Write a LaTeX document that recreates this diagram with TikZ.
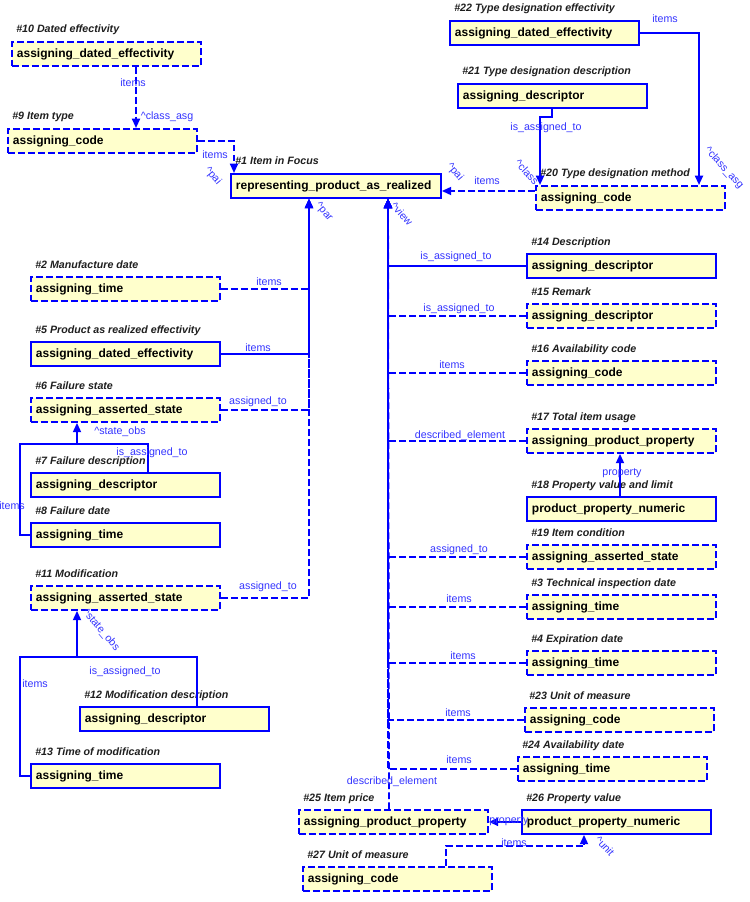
\documentclass[tikz,border=0pt]{standalone}
\usepackage{fontspec}
\setmainfont{Liberation Sans}
\usetikzlibrary{arrows.meta}
\definecolor{boxfill}{RGB}{255,255,204}
\definecolor{lnblue}{RGB}{0,0,255}
\definecolor{lblblue}{RGB}{51,51,255}
\definecolor{ttlc}{RGB}{30,30,30}
\begin{document}
\begin{tikzpicture}[x=0.75pt,y=-0.75pt,
  box/.style={draw=lnblue, fill=boxfill, line width=1.4pt, minimum height=18pt,
    text width=134.25pt, inner xsep=3.75pt, inner ysep=0pt, align=left,
    anchor=north west, font=\bfseries\fontsize{9}{10}\selectfont},
  dbox/.style={box, dash pattern=on 5pt off 2.5pt},
  wide/.style={text width=150pt},
  ttl/.style={anchor=base west, inner sep=0pt, text=ttlc,
    font=\bfseries\itshape\fontsize{8}{9}\selectfont},
  lbl/.style={inner sep=0pt, text=lblblue, font=\fontsize{8}{9}\selectfont},
  sl/.style={draw=lnblue, line width=1.4pt},
  dl/.style={sl, dash pattern=on 5pt off 2.5pt},
  arr/.style={-{Triangle[length=7pt,width=6pt]}}
]
\useasboundingbox (0,0) rectangle (749,902);

% ---------- boxes ----------
\node[dbox] (n10) at (11,41) {assigning\_dated\_effectivity};
\node[ttl] (t10) at (16,33) {\#10 Dated effectivity};
\node[dbox] (n9) at (7,128) {assigning\_code};
\node[ttl] (t9) at (12,120) {\#9 Item type};
\node[box,wide] (n1) at (230,173) {representing\_product\_as\_realized};
\node[ttl] (t1) at (235,165) {\#1 Item in Focus};
\node[box] (n22) at (449,20) {assigning\_dated\_effectivity};
\node[ttl] (t22) at (454,12) {\#22 Type designation effectivity};
\node[box] (n21) at (457,83) {assigning\_descriptor};
\node[ttl] (t21) at (462,75) {\#21 Type designation description};
\node[dbox] (n20) at (535,185) {assigning\_code};
\node[ttl] (t20) at (540,177) {\#20 Type designation method};

\node[dbox] (n2) at (30,276) {assigning\_time};
\node[ttl] (t2) at (35,268) {\#2 Manufacture date};
\node[box] (n5) at (30,341) {assigning\_dated\_effectivity};
\node[ttl] (t5) at (35,333) {\#5 Product as realized effectivity};
\node[dbox] (n6) at (30,397) {assigning\_asserted\_state};
\node[ttl] (t6) at (35,389) {\#6 Failure state};
\node[box] (n7) at (30,472) {assigning\_descriptor};
\node[ttl] (t7) at (35,464) {\#7 Failure description};
\node[box] (n8) at (30,522) {assigning\_time};
\node[ttl] (t8) at (35,514) {\#8 Failure date};
\node[dbox] (n11) at (30,585) {assigning\_asserted\_state};
\node[ttl] (t11) at (35,577) {\#11 Modification};
\node[box] (n12) at (79,706) {assigning\_descriptor};
\node[ttl] (t12) at (84,698) {\#12 Modification description};
\node[box] (n13) at (30,763) {assigning\_time};
\node[ttl] (t13) at (35,755) {\#13 Time of modification};

\node[box] (n14) at (526,253) {assigning\_descriptor};
\node[ttl] (t14) at (531,245) {\#14 Description};
\node[dbox] (n15) at (526,303) {assigning\_descriptor};
\node[ttl] (t15) at (531,295) {\#15 Remark};
\node[dbox] (n16) at (526,360) {assigning\_code};
\node[ttl] (t16) at (531,352) {\#16 Availability code};
\node[dbox] (n17) at (526,428) {assigning\_product\_property};
\node[ttl] (t17) at (531,420) {\#17 Total item usage};
\node[box] (n18) at (526,496) {product\_property\_numeric};
\node[ttl] (t18) at (531,488) {\#18 Property value and limit};
\node[dbox] (n19) at (526,544) {assigning\_asserted\_state};
\node[ttl] (t19) at (531,536) {\#19 Item condition};
\node[dbox] (n3) at (526,594) {assigning\_time};
\node[ttl] (t3) at (531,586) {\#3 Technical inspection date};
\node[dbox] (n4) at (526,650) {assigning\_time};
\node[ttl] (t4) at (531,642) {\#4 Expiration date};
\node[dbox] (n23) at (524,707) {assigning\_code};
\node[ttl] (t23) at (529,699) {\#23 Unit of measure};
\node[dbox] (n24) at (517,756) {assigning\_time};
\node[ttl] (t24) at (522,748) {\#24 Availability date};
\node[dbox] (n25) at (298,809) {assigning\_product\_property};
\node[ttl] (t25) at (303,801) {\#25 Item price};
\node[box] (n26) at (521,809) {product\_property\_numeric};
\node[ttl] (t26) at (526,801) {\#26 Property value};
\node[dbox] (n27) at (302,866) {assigning\_code};
\node[ttl] (t27) at (307,858) {\#27 Unit of measure};

% ---------- connectors ----------
\draw[dl,arr] (136,0 |- n10.south) -- (136,0 |- n9.north);
\draw[dl,arr] (n9.east) -| (234,0 |- n1.north);
\draw[dl,arr] (n20.west |- 0,191) -- (n1.east |- 0,191);
\draw[sl,arr] (n22.east) -| (699,0 |- n20.north);
\coordinate (b21) at (552,117);
\draw[sl,arr] (b21 |- n21.south) -- (b21) -- (540,117) -- (540,0 |- n20.north);

% trunk to #1 at x=309
\draw[dl,arr] (n2.east) -| (309,0 |- n1.south);
\draw[dl,arr] (n6.east) -| (309,0 |- n1.south);
\draw[dl,arr] (n11.east) -| (309,0 |- n1.south);
\draw[sl,arr] (n5.east) -| (309,0 |- n1.south);

% #6 subtree
\coordinate (j6) at (77,444);
\draw[sl] (148,0 |- n7.north) |- (j6);
\draw[sl] (n8.west) -| (20,0 |- j6) -- (j6);
\draw[sl,arr] (j6) -- (j6 |- n6.south);

% #11 subtree
\coordinate (j11) at (77,657);
\draw[sl] (197,0 |- n12.north) |- (j11);
\draw[sl] (n13.west) -| (20,0 |- j11) -- (j11);
\draw[sl,arr] (j11) -- (j11 |- n11.south);

% trunk to #1 at x=388
\draw[dl,arr] (n15.west) -| (388,0 |- n1.south);
\draw[dl,arr] (n16.west) -| (388,0 |- n1.south);
\draw[dl,arr] (n17.west) -| (388,0 |- n1.south);
\draw[dl,arr] (n19.west) -| (388,0 |- n1.south);
\draw[dl,arr] (n3.west) -| (388,0 |- n1.south);
\draw[dl,arr] (n4.west) -| (388,0 |- n1.south);
\draw[dl,arr] (n23.west) -| (388,0 |- n1.south);
\draw[dl,arr] (n24.west) -| (388,0 |- n1.south);
\draw[dl,arr] (389,0 |- n25.north) -- (388,0 |- n1.south);
\draw[sl,arr] (n14.west) -| (388,0 |- n1.south);

\draw[sl,arr] (620,0 |- n18.north) -- (620,0 |- n17.south);
\draw[sl,arr] (n26.west) -- (n25.east);
\coordinate (b27) at (584,846);
\draw[dl,arr] (446,0 |- n27.north) |- (b27) -- (b27 |- n26.south);

% ---------- labels ----------
\node[lbl] (l1) at (133,83) {items};
\node[lbl] (l2) at (167,117) {\textasciicircum class\_asg};
\node[lbl] (l3) at (215,155) {items};
\node[lbl,rotate=-50] (l4) at (213,176) {\textasciicircum pai};
\node[lbl] (l5) at (487,181) {items};
\node[lbl,rotate=-50] (l6) at (455,172) {\textasciicircum pai};
\node[lbl] (l7) at (665,19) {items};
\node[lbl,rotate=-48] (l8) at (724,168) {\textasciicircum class\_asg};
\node[lbl] (l9) at (546,128) {is\_assigned\_to};
\node[lbl,rotate=-48] (l10) at (527,172) {\textasciicircum class};
\node[lbl,rotate=-50] (l11) at (324,212) {\textasciicircum par};
\node[lbl,rotate=-48] (l12) at (402,214) {\textasciicircum view};

\node[lbl] (l13) at (269,282) {items};
\node[lbl] (l14) at (258,348) {items};
\node[lbl] (l15) at (258,402) {assigned\_to};
\node[lbl] (l16) at (120,432) {\textasciicircum state\_obs};
\node[lbl] (l17) at (152,453) {is\_assigned\_to};
\node[lbl] (l18) at (12,506) {items};
\node[lbl] (l19) at (268,587) {assigned\_to};
\node[lbl,rotate=-50] (l20) at (101,630) {\textasciicircum state\_obs};
\node[lbl] (l21) at (125,672) {is\_assigned\_to};
\node[lbl] (l22) at (35,684) {items};

\node[lbl] (l23) at (456,257) {is\_assigned\_to};
\node[lbl] (l24) at (459,309) {is\_assigned\_to};
\node[lbl] (l25) at (452,365) {items};
\node[lbl] (l26) at (460,436) {described\_element};
\node[lbl] (l27) at (622,473) {property};
\node[lbl] (l28) at (459,550) {assigned\_to};
\node[lbl] (l29) at (459,599) {items};
\node[lbl] (l30) at (463,656) {items};
\node[lbl] (l31) at (458,713) {items};
\node[lbl] (l32) at (459,760) {items};
\node[lbl] (l33) at (392,782) {described\_element};
\node[lbl] (l34) at (509,821) {property};
\node[lbl] (l35) at (514,843) {items};
\node[lbl,rotate=-48] (l36) at (605,846) {\textasciicircum unit};
\end{tikzpicture}
\end{document}
